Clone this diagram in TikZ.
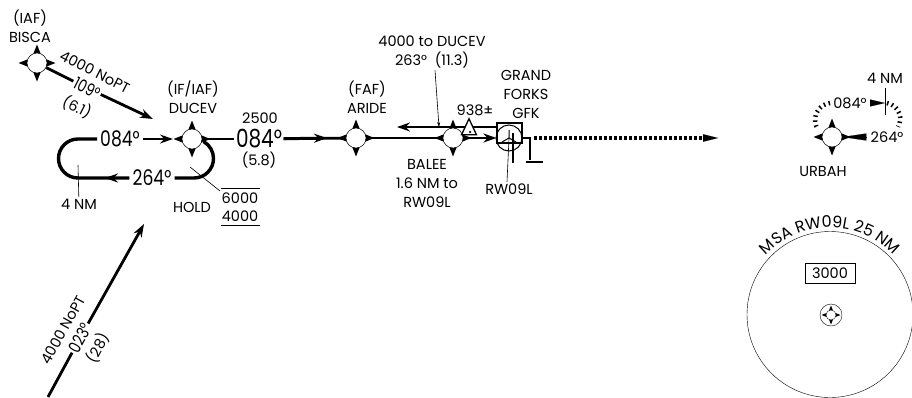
\documentclass[tikz,border=0pt]{standalone}
\usepackage{fontspec}
\setmainfont{Poppins}
\newfontfamily\crsfont[FakeStretch=0.8]{Poppins}
\usetikzlibrary{arrows.meta,decorations.text,shapes.geometric}
\tikzset{
  fixstar/.style={star, star points=4, star point ratio=2.5, fill=black, inner sep=0pt, minimum size=37pt},
  fixhole/.style={circle, draw=black, fill=white, line width=0.5pt, inner sep=0pt, minimum size=20pt},
  lbl/.style={font=\fontsize{14.5}{19}\selectfont, inner sep=1.5pt, align=center},
  biglbl/.style={font=\crsfont\fontsize{17}{18}\selectfont, inner sep=1.5pt},
  hugelbl/.style={font=\crsfont\fontsize{21.5}{22}\selectfont, inner sep=3pt},
  route/.style={line width=2.8pt},
  midline/.style={line width=1.4pt},
  thinline/.style={line width=0.6pt},
  tipped/.style={-{Stealth[length=13pt,width=9pt]}},
  dottedroute/.style={line width=4pt, dash pattern=on 2.5pt off 2.5pt},
  arcdots/.style={line width=4.5pt, dash pattern=on 1.5pt off 3.5pt},
}
\newcommand{\fixpoint}[2]{\node[fixstar] (#1) at (#2) {}; \node[fixhole] (#1hole) at (#2) {};}
\begin{document}
\begin{tikzpicture}[x=1pt, y=-1pt]
  \useasboundingbox (0,0) rectangle (912,397);
  % fixes
  \fixpoint{bisca}{37,63}
  \fixpoint{ducev}{192,139}
  \fixpoint{aride}{356,138}
  \fixpoint{balee}{453,138}
  \fixpoint{urbah}{832,137}
  % labels
  \node[lbl] (biscatxt) at (30,26) {(IAF)\\BISCA};
  \node[lbl] (ducevtxt) at (193,97.5) {(IF/IAF)\\DUCEV};
  \node[lbl] (aridetxt) at (367,97.5) {(FAF)\\ARIDE};
  \node[lbl] (baleetxt) at (427,183) {BALEE\\1.6 NM to\\RW09L};
  \node[lbl] (msg) at (432,52.5) {4000 to DUCEV\\263°~~(11.3)};
  \node[lbl] (gfktxt) at (526,94) {GRAND\\FORKS\\GFK};
  \node[lbl] (elev) at (475,110) {938±};
  \node[lbl] (rwtxt) at (509,189) {RW09L};
  \node[lbl] (urbahtxt) at (823,171) {URBAH};
  % feeder from BISCA
  \node[lbl, rotate=-27] (noptA) at (95,72) {4000 NoPT};
  \node[biglbl, rotate=-27] (crsA) at (87,88) {109°};
  \node[lbl, rotate=-27] (distA) at (77,107) {(6.1)};
  \coordinate (tipA) at (153,119);
  \draw[route] (biscahole) -- (crsA);
  \draw[route, tipped] (crsA) -- (tipA);
  % feeder from south
  \node[lbl, rotate=61] (noptB) at (63,330) {4000 NoPT};
  \node[biglbl, rotate=61] (crsB) at (80,338) {023°};
  \node[lbl, rotate=61] (distB) at (98,348) {(28)};
  \coordinate (startB) at (48,397);
  \coordinate (tipB) at (144,224);
  \draw[route] (startB) -- (crsB);
  \draw[route, tipped] (crsB) -- (tipB);
  % hold
  \node[hugelbl] (crsC) at (120,139) {084°};
  \node[hugelbl] (crsD) at (152,178) {264°};
  \draw[line width=3.4pt] (crsC.west) -- (78,139) arc[start angle=-90, end angle=-270, radius=19.5] -- (crsD.west);
  \coordinate (holdhead) at (105,178);
  \draw[route, tipped] (crsD.west) -- (holdhead);
  \draw[midline, tipped] (crsC.east) -- (ducev.west);
  \draw[line width=3.4pt] (crsD.east) -- (194,178) arc[start angle=90, end angle=-60, radius=19.5];
  \coordinate (tickA) at (78,165);
  \node[lbl] (nmA) at (79,204) {4 NM};
  \draw[thinline] (tickA) -- (nmA);
  \node[lbl] (holdtxt) at (192,207) {HOLD};
  \node[lbl] (altA) at (240,198) {6000};
  \node[lbl] (altB) at (240,216) {4000};
  \draw[line width=1pt] (221,188) -- (260,188) (221,225) -- (260,225);
  \coordinate (holdtip) at (190,167);
  \coordinate (holdend) at (220,191);
  \draw[thinline] (holdend) -- (holdtip);
  % final
  \node[lbl] (alt) at (260,118) {2500};
  \node[font=\crsfont\fontsize{25}{26}\selectfont, inner sep=1.5pt] (crsE) at (259,139) {084°};
  \node[lbl] (dist) at (259,160) {(5.8)};
  \coordinate (finalhead) at (327,138);
  \draw[route] (ducevhole) -- (crsE);
  \draw[route] (crsE) -- (aridehole);
  \draw[route, tipped] (crsE) -- (finalhead);
  \draw[route] (aridehole) -- (baleehole);
  % field
  \node[draw, line width=1.2pt, minimum width=25pt, minimum height=20pt, inner sep=0pt] (gfkbox) at (509.5,133) {};
  \node[draw, circle, line width=1pt, minimum size=26pt, inner sep=0pt] (gfk) at (509,138) {};
  \draw[line width=1pt] (gfk.center) -- ++(0,-8) (gfk.center) -- ++(-7,4) (gfk.center) -- ++(7,4);
  \draw[route, tipped] (baleehole) -- (gfkbox.west |- gfk);
  \draw[midline, tipped] (gfkbox.west |- 0,127) -- (397,127);
  \node[draw, isosceles triangle, isosceles triangle apex angle=50, shape border rotate=90, fill=white, line width=1.3pt, inner sep=0pt, minimum height=16pt] (obst) at (469,130) {};
  \node[circle, fill=black, inner sep=0pt, minimum size=2.5pt] (obstdot) at (470,132) {};
  \coordinate (leadtip) at (439,127);
  \draw[thinline, -{Stealth[length=5pt,width=3pt]}] (msg.south) ++(3,0) -- (leadtip);
  \draw[thinline] (rwtxt.north) ++(-2,0) -- (gfk.center);
  \draw[midline] (513,133) -- (513,163);
  \coordinate (missA) at (530,138);
  \coordinate (missB) at (530,160);
  \draw[midline] (gfk.east) -- (missA) -- (missB);
  \draw[line width=1.6pt] (526,162) -- (543,162);
  \coordinate (missC) at (534,138);
  \coordinate (missD) at (703,138);
  \coordinate (misstip) at (718,138);
  \draw[dottedroute] (missC) -- (missD);
  \draw[-{Triangle[length=15pt,width=7.5pt]}, line width=0.1pt] (missD) -- (misstip);
  % missed hold
  \node[lbl] (crsF) at (850,103) {084°};
  \node[lbl] (crsG) at (887,137) {264°};
  \coordinate (tickT) at (885,88);
  \coordinate (tickB) at (885,115);
  \draw[thinline] (tickT) -- (tickB);
  \node[lbl] (nmB) at (885,78) {4 NM};
  \draw[arcdots] (830,103) arc[start angle=-97, end angle=-215, radius=17];
  \draw[arcdots] (887,103) arc[start angle=-80, end angle=30, radius=16];
  \coordinate (wedgeA) at (870,103);
  \coordinate (wedgeB) at (885,103);
  \coordinate (wedgeC) at (867,137);
  \draw[-{Triangle[length=15pt,width=7pt]}, line width=0.1pt] (wedgeA) -- (wedgeB);
  \draw[-{Triangle[length=24pt,width=7pt]}, line width=0.1pt] (wedgeC) -- (urbahhole.east);
  % MSA
  \node[draw, circle, thin, minimum size=166pt, inner sep=0pt] (msa) at (830,314.5) {};
  \node[draw, thin, minimum width=50pt, minimum height=20pt, lbl, inner sep=0pt] (msaalt) at (830,273) {3000};
  \node[draw, circle, thin, minimum size=22pt, inner sep=0pt] (msactr) at (831,315) {};
  \node[star, star points=4, star point ratio=2.5, fill=black, inner sep=0pt, minimum size=19pt] (msastar) at (831,315) {};
  \node[circle, draw, fill=white, line width=0.3pt, minimum size=10pt, inner sep=0pt] (msahole) at (831,315) {};
  \path[decorate, decoration={text along path, text align=center, text={|\fontsize{16}{18}\selectfont|MSA RW09L 25 NM}}]
    (830,314.5) ++(-150:87) arc[start angle=-150, end angle=-30, radius=87];
\end{tikzpicture}
\end{document}
